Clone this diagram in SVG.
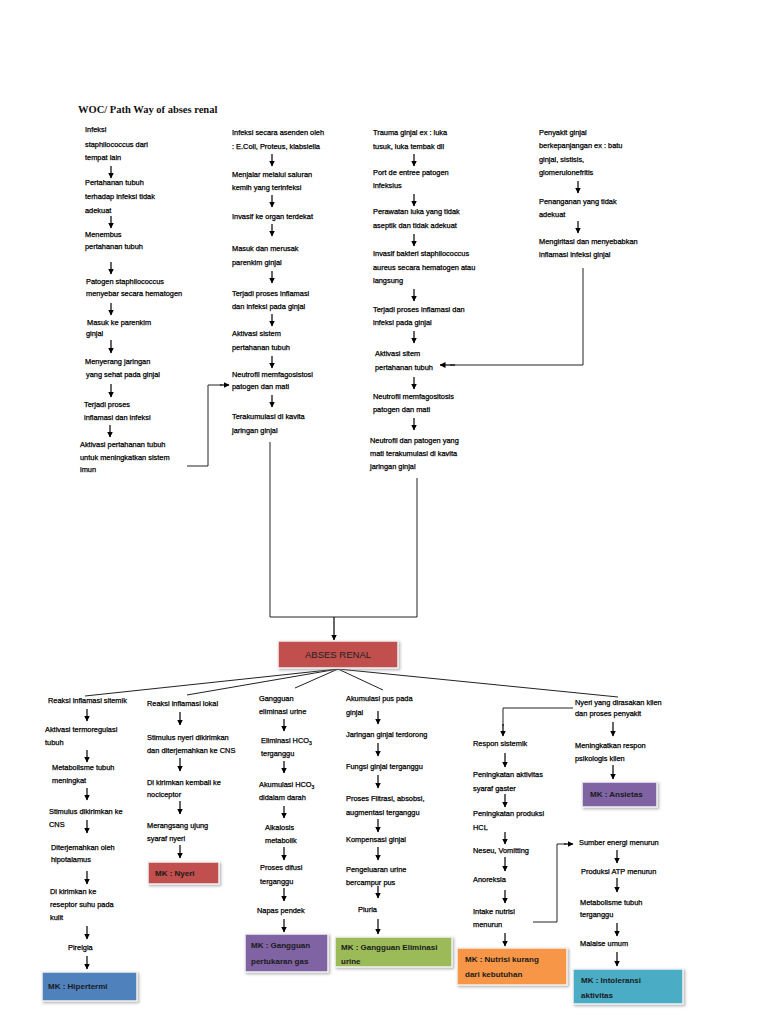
<svg xmlns="http://www.w3.org/2000/svg" width="768" height="1024" viewBox="0 0 768 1024">
<defs>
<marker id="ah" markerWidth="6" markerHeight="6" refX="5.5" refY="3" orient="auto" markerUnits="userSpaceOnUse">
<path d="M0,0 L6,3 L0,6 z" fill="#000"/>
</marker>
<filter id="sh" x="-10%" y="-10%" width="130%" height="140%">
<feDropShadow dx="1.5" dy="1.5" stdDeviation="1" flood-color="#888" flood-opacity="0.6"/>
</filter>
</defs>
<style>
.t{font-family:"Liberation Sans",Arial,sans-serif;font-size:7.4px;fill:#000;stroke:#000;stroke-width:0.25px;}
.ttl{font-family:"Liberation Serif","Times New Roman",serif;font-size:10.5px;font-weight:bold;fill:#111;}
.mk{font-family:"Liberation Sans",Arial,sans-serif;font-size:8px;font-weight:bold;fill:#1a1a1a;}
.ab{font-family:"Liberation Sans",Arial,sans-serif;font-size:9.5px;fill:#222;}
.ln{stroke:#222;stroke-width:1;fill:none;}
.ar{stroke:#000;stroke-width:1.2;fill:none;marker-end:url(#ah);}
.box{stroke:#f2f2f2;stroke-width:1.5;filter:url(#sh);}
</style>
<rect width="768" height="1024" fill="#fff"/>

<text class="ttl" x="78" y="113">WOC/ Path Way of abses renal</text>

<g id="connectors">
<line class="ar" x1="111" y1="166" x2="111" y2="178"/>
<line class="ar" x1="111" y1="216" x2="111" y2="228"/>
<line class="ar" x1="111" y1="262" x2="111" y2="274"/>
<line class="ar" x1="111" y1="303" x2="111" y2="315"/>
<line class="ar" x1="111" y1="340" x2="111" y2="353"/>
<line class="ar" x1="111" y1="384" x2="111" y2="397"/>
<line class="ar" x1="110" y1="425" x2="110" y2="437"/>
<polyline class="ln" points="187,466 208,466 208,385 222,385"/>
<line class="ar" x1="220" y1="385" x2="229" y2="385"/>
<line class="ar" x1="272" y1="154" x2="272" y2="166"/>
<line class="ar" x1="272" y1="195" x2="272" y2="207"/>
<line class="ar" x1="272" y1="224" x2="272" y2="236"/>
<line class="ar" x1="272" y1="271" x2="272" y2="283"/>
<line class="ar" x1="272" y1="314" x2="272" y2="326"/>
<line class="ar" x1="272" y1="356" x2="272" y2="368"/>
<line class="ar" x1="272" y1="395" x2="272" y2="407"/>
<line class="ar" x1="414" y1="154" x2="414" y2="166"/>
<line class="ar" x1="414" y1="194" x2="414" y2="206"/>
<line class="ar" x1="414" y1="234" x2="414" y2="246"/>
<line class="ar" x1="414" y1="289" x2="414" y2="301"/>
<line class="ar" x1="414" y1="331" x2="414" y2="343"/>
<line class="ar" x1="414" y1="377" x2="414" y2="389"/>
<line class="ar" x1="414" y1="418" x2="414" y2="430"/>
<line class="ar" x1="578" y1="181" x2="578" y2="193"/>
<line class="ar" x1="578" y1="221" x2="578" y2="233"/>
<polyline class="ln" points="583,268 583,365 450,365"/>
<line class="ar" x1="455" y1="365" x2="440" y2="365"/>
<polyline class="ln" points="270,442 270,617 417,617 417,478"/>
<line class="ar" x1="334" y1="617" x2="334" y2="640"/>
<line class="ln" x1="338" y1="669" x2="85" y2="696"/>
<line class="ln" x1="338" y1="669" x2="187" y2="695"/>
<line class="ln" x1="338" y1="669" x2="295" y2="688"/>
<line class="ln" x1="338" y1="669" x2="383" y2="690"/>
<line class="ln" x1="338" y1="669" x2="618" y2="697"/>
<line class="ar" x1="87" y1="709" x2="87" y2="721"/>
<line class="ar" x1="87" y1="750" x2="87" y2="762"/>
<line class="ar" x1="87" y1="788" x2="87" y2="800"/>
<line class="ar" x1="87" y1="820" x2="87" y2="833"/>
<line class="ar" x1="87" y1="871" x2="87" y2="884"/>
<line class="ar" x1="87" y1="926" x2="87" y2="939"/>
<line class="ar" x1="87" y1="956" x2="87" y2="969"/>
<line class="ar" x1="180" y1="712" x2="180" y2="725"/>
<line class="ar" x1="180" y1="758" x2="180" y2="771"/>
<line class="ar" x1="180" y1="801" x2="180" y2="814"/>
<line class="ar" x1="180" y1="845" x2="180" y2="858"/>
<line class="ar" x1="284" y1="719" x2="284" y2="731"/>
<line class="ar" x1="284" y1="761" x2="284" y2="773"/>
<line class="ar" x1="284" y1="806" x2="284" y2="818"/>
<line class="ar" x1="284" y1="847" x2="284" y2="860"/>
<line class="ar" x1="284" y1="888" x2="284" y2="901"/>
<line class="ar" x1="284" y1="919" x2="284" y2="932"/>
<line class="ar" x1="378" y1="711" x2="378" y2="724"/>
<line class="ar" x1="378" y1="743" x2="378" y2="756"/>
<line class="ar" x1="378" y1="775" x2="378" y2="788"/>
<line class="ar" x1="378" y1="819" x2="378" y2="832"/>
<line class="ar" x1="378" y1="847" x2="378" y2="860"/>
<line class="ar" x1="378" y1="886" x2="378" y2="898"/>
<line class="ar" x1="378" y1="919" x2="378" y2="934"/>
<line class="ar" x1="613" y1="722" x2="613" y2="736"/>
<line class="ar" x1="613" y1="765" x2="613" y2="779"/>
<polyline class="ln" points="573,708 503,708 503,726"/>
<line class="ar" x1="503" y1="724" x2="503" y2="736"/>
<line class="ar" x1="505" y1="753" x2="505" y2="767"/>
<line class="ar" x1="505" y1="794" x2="505" y2="807"/>
<line class="ar" x1="505" y1="832" x2="505" y2="844"/>
<line class="ar" x1="505" y1="857" x2="505" y2="871"/>
<line class="ar" x1="505" y1="890" x2="505" y2="903"/>
<line class="ar" x1="505" y1="933" x2="505" y2="946"/>
<polyline class="ln" points="533,922 557,922 557,844 566,844"/>
<line class="ar" x1="564" y1="844" x2="573" y2="844"/>
<line class="ar" x1="617" y1="850" x2="617" y2="863"/>
<line class="ar" x1="617" y1="878" x2="617" y2="892"/>
<line class="ar" x1="617" y1="923" x2="617" y2="936"/>
<line class="ar" x1="617" y1="952" x2="617" y2="966"/>
</g>

<g id="c1">
<text class="t" x="85" y="132">Infeksi</text>
<text class="t" x="85" y="147">staphilococcus dari</text>
<text class="t" x="85" y="160">tempat lain</text>
<text class="t" x="85" y="185">Pertahanan tubuh</text>
<text class="t" x="85" y="199">terhadap infeksi tidak</text>
<text class="t" x="85" y="213">adekuat</text>
<text class="t" x="85" y="237">Menembus</text>
<text class="t" x="85" y="249">pertahanan tubuh</text>
<text class="t" x="86" y="284">Patogen staphilococcus</text>
<text class="t" x="86" y="296">menyebar secara hematogen</text>
<text class="t" x="87" y="325">Masuk ke parenkim</text>
<text class="t" x="86" y="336">ginjal</text>
<text class="t" x="85" y="364">Menyerang jaringan</text>
<text class="t" x="86" y="377">yang sehat pada ginjal</text>
<text class="t" x="84" y="407">Terjadi proses</text>
<text class="t" x="84" y="420">inflamasi dan infeksi</text>
<text class="t" x="80" y="447">Aktivasi pertahanan tubuh</text>
<text class="t" x="80" y="460">untuk meningkatkan sistem</text>
<text class="t" x="80" y="472">imun</text>
</g>

<g id="c2">
<text class="t" x="232" y="135">Infeksi secara asenden oleh</text>
<text class="t" x="232" y="149">: E.Coli, Proteus, klabsiella</text>
<text class="t" x="232" y="177">Menjalar melalui saluran</text>
<text class="t" x="232" y="190">kemih yang terinfeksi</text>
<text class="t" x="232" y="219">Invasif ke organ terdekat</text>
<text class="t" x="232" y="251">Masuk dan merusak</text>
<text class="t" x="232" y="265">parenkim ginjal</text>
<text class="t" x="232" y="296">Terjadi proses inflamasi</text>
<text class="t" x="232" y="309">dan infeksi pada ginjal</text>
<text class="t" x="232" y="336">Aktivasi sistem</text>
<text class="t" x="232" y="350">pertahanan tubuh</text>
<text class="t" x="232" y="377">Neutrofil memfagosistosi</text>
<text class="t" x="232" y="389">patogen dan mati</text>
<text class="t" x="232" y="419">Terakumulasi di kavita</text>
<text class="t" x="232" y="433">jaringan ginjal</text>
</g>

<g id="c3">
<text class="t" x="373" y="135">Trauma ginjal ex : luka</text>
<text class="t" x="373" y="149">tusuk, luka tembak dll</text>
<text class="t" x="373" y="175">Port de entree patogen</text>
<text class="t" x="373" y="188">infeksius</text>
<text class="t" x="373" y="214">Perawatan luka yang tidak</text>
<text class="t" x="373" y="228">aseptik dan tidak adekuat</text>
<text class="t" x="373" y="256">Invasif bakteri staphilococcus</text>
<text class="t" x="373" y="270">aureus secara hematogen atau</text>
<text class="t" x="373" y="283">langsung</text>
<text class="t" x="373" y="312">Terjadi proses inflamasi dan</text>
<text class="t" x="373" y="325">infeksi pada ginjal</text>
<text class="t" x="375" y="356">Aktivasi sitem</text>
<text class="t" x="375" y="370">pertahanan tubuh</text>
<text class="t" x="373" y="399">Neutrofil memfagositosis</text>
<text class="t" x="373" y="412">patogen dan mati</text>
<text class="t" x="370" y="443">Neutrofil dan patogen yang</text>
<text class="t" x="370" y="456">mati terakumulasi di kavita</text>
<text class="t" x="370" y="469">jaringan ginjal</text>
</g>

<g id="c4">
<text class="t" x="539" y="135">Penyakit ginjal</text>
<text class="t" x="539" y="148">berkepanjangan ex : batu</text>
<text class="t" x="539" y="162">ginjal, sistisis,</text>
<text class="t" x="539" y="175">glomerulonefritis</text>
<text class="t" x="539" y="204">Penanganan yang tidak</text>
<text class="t" x="539" y="217">adekuat</text>
<text class="t" x="539" y="244">Mengiritasi dan menyebabkan</text>
<text class="t" x="539" y="257">inflamasi infeksi ginjal</text>
</g>

<g id="abses-renal">
<rect class="box" x="278" y="641" width="120" height="27" fill="#c0504d"/>
<text class="ab" x="338" y="658" text-anchor="middle">ABSES RENAL</text>
</g>

<g id="sistemik">
<text class="t" x="48" y="703">Reaksi inflamasi sitemik</text>
<text class="t" x="45" y="732">Aktivasi termoregulasi</text>
<text class="t" x="45" y="745">tubuh</text>
<text class="t" x="52" y="770">Metabolisme tubuh</text>
<text class="t" x="52" y="783">meningkat</text>
<text class="t" x="49" y="814">Stimulus dikirimkan ke</text>
<text class="t" x="49" y="827">CNS</text>
<text class="t" x="51" y="850">Diterjemahkan oleh</text>
<text class="t" x="51" y="862">hipotalamus</text>
<text class="t" x="50" y="894">Di kirimkan ke</text>
<text class="t" x="50" y="907">reseptor suhu pada</text>
<text class="t" x="50" y="920">kulit</text>
<text class="t" x="68" y="950">Pirelgia</text>
</g>
<g id="mk-hipertermi">
<rect class="box" x="42" y="972" width="95" height="29" fill="#4f81bd"/>
<text class="mk" x="48" y="989">MK : Hipertermi</text>
</g>

<g id="lokal">
<text class="t" x="147" y="706">Reaksi inflamasi lokal</text>
<text class="t" x="147" y="740">Stimulus nyeri dikirimkan</text>
<text class="t" x="147" y="753">dan diterjemahkan ke CNS</text>
<text class="t" x="147" y="785">Di kirimkan kembali ke</text>
<text class="t" x="147" y="797">nociceptor</text>
<text class="t" x="147" y="828">Merangsang ujung</text>
<text class="t" x="147" y="841">syaraf nyeri</text>
</g>
<g id="mk-nyeri">
<rect class="box" x="148" y="862" width="71" height="22" fill="#c0504d"/>
<text class="mk" x="155" y="876">MK : Nyeri</text>
</g>

<g id="eliminasi">
<text class="t" x="259" y="701">Gangguan</text>
<text class="t" x="259" y="714">eliminasi  urine</text>
<text class="t" x="261" y="743">Eliminasi HCO<tspan font-size="5" dy="2">3</tspan></text>
<text class="t" x="261" y="756">terganggu</text>
<text class="t" x="259" y="787">Akumulasi HCO<tspan font-size="5" dy="2">3</tspan></text>
<text class="t" x="259" y="800">didalam darah</text>
<text class="t" x="265" y="830">Alkalosis</text>
<text class="t" x="265" y="843">metabolik</text>
<text class="t" x="260" y="870">Proses difusi</text>
<text class="t" x="260" y="884">terganggu</text>
<text class="t" x="257" y="913">Napas pendek</text>
</g>
<g id="mk-gas">
<rect class="box" x="245" y="934" width="83" height="38" fill="#8064a2"/>
<text class="mk" x="251" y="948">MK : Gangguan</text>
<text class="mk" x="251" y="964">pertukaran gas</text>
</g>

<g id="pus">
<text class="t" x="346" y="701">Akumulasi pus pada</text>
<text class="t" x="346" y="715">ginjal</text>
<text class="t" x="346" y="737">Jaringan ginjal terdorong</text>
<text class="t" x="346" y="769">Fungsi ginjal terganggu</text>
<text class="t" x="346" y="801">Proses Filtrasi, absobsi,</text>
<text class="t" x="346" y="815">augmentasi terganggu</text>
<text class="t" x="346" y="842">Kompensasi ginjal</text>
<text class="t" x="346" y="872">Pengeluaran urine</text>
<text class="t" x="346" y="885">bercampur pus</text>
<text class="t" x="358" y="912">Piuria</text>
</g>
<g id="mk-eliminasi">
<rect class="box" x="335" y="937" width="117" height="30" fill="#9bbb59"/>
<text class="mk" x="341" y="950">MK : Gangguan Eliminasi</text>
<text class="mk" x="341" y="964">urine</text>
</g>

<g id="nyeri-klien">
<text class="t" x="575" y="705">Nyeri yang dirasakan klien</text>
<text class="t" x="575" y="716">dan proses penyakit</text>
<text class="t" x="575" y="748">Meningkatkan respon</text>
<text class="t" x="575" y="761">psikologis klien</text>
</g>
<g id="mk-ansietas">
<rect class="box" x="582" y="782" width="75" height="25" fill="#8064a2"/>
<text class="mk" x="590" y="797">MK : Ansietas</text>
</g>

<g id="respon">
<text class="t" x="473" y="746">Respon sistemik</text>
<text class="t" x="473" y="777">Peningkatan aktivitas</text>
<text class="t" x="473" y="791">syaraf gaster</text>
<text class="t" x="473" y="816">Peningkatan produksi</text>
<text class="t" x="473" y="830">HCL</text>
<text class="t" x="473" y="853">Neseu, Vomitting</text>
<text class="t" x="473" y="882">Anoreksia</text>
<text class="t" x="473" y="914">Intake nutrisi</text>
<text class="t" x="473" y="927">menurun</text>
</g>
<g id="mk-nutrisi">
<rect class="box" x="457" y="948" width="110" height="37" fill="#f79646"/>
<text class="mk" x="465" y="962">MK : Nutrisi kurang</text>
<text class="mk" x="465" y="977">dari kebutuhan</text>
</g>

<g id="energi">
<text class="t" x="579" y="845">Sumber energi  menurun</text>
<text class="t" x="581" y="874">Produksi ATP menurun</text>
<text class="t" x="580" y="905">Metabolisme tubuh</text>
<text class="t" x="580" y="917">terganggu</text>
<text class="t" x="580" y="946">Malaise umum</text>
</g>
<g id="mk-intoleransi">
<rect class="box" x="573" y="969" width="110" height="35" fill="#4bacc6"/>
<text class="mk" x="581" y="983">MK : Intoleransi</text>
<text class="mk" x="581" y="998">aktivitas</text>
</g>
</svg>
